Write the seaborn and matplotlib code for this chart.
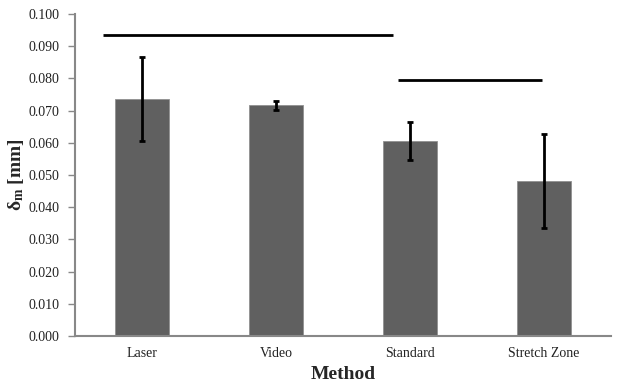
import matplotlib
matplotlib.use("Agg")
import matplotlib.pyplot as plt
import seaborn as sns
import pandas as pd
import numpy as np

categories = ["Laser", "Video", "Standard", "Stretch Zone"]
means = [0.0735, 0.0716, 0.0605, 0.0480]
err_low = [0.0606, 0.0702, 0.0548, 0.0336]
err_high = [0.0867, 0.0731, 0.0665, 0.0627]
sig_lines = [(-0.29, 1.875, 0.0936), (1.91, 2.985, 0.0794)]
yticks = [0.0, 0.01, 0.02, 0.03, 0.04, 0.05, 0.06, 0.07, 0.08, 0.09, 0.10]

sns.set_theme(style="white")
plt.rcParams['font.family'] = ['Liberation Serif', 'DejaVu Serif']
plt.rcParams['mathtext.fontset'] = 'custom'
plt.rcParams['mathtext.rm'] = 'Liberation Serif'
plt.rcParams['mathtext.bf'] = 'Liberation Serif:bold'
plt.rcParams['mathtext.it'] = 'Liberation Serif:italic'

df = pd.DataFrame({"Method": categories, "value": means})

fig = plt.figure(figsize=(6.19, 3.86), dpi=100)
ax = fig.add_axes([0.121, 0.1295, 0.866, 0.8342])
sns.barplot(data=df, x="Method", y="value", color="#606060", saturation=1,
            width=0.4, ax=ax, errorbar=None)
for p in ax.patches:
    p.set_edgecolor("#909090")
    p.set_linewidth(0.6)

x = np.arange(len(categories))
lo = np.array(means) - np.array(err_low)
hi = np.array(err_high) - np.array(means)
ax.errorbar(x, means, yerr=[lo, hi], fmt="none", ecolor="black",
            elinewidth=2, capsize=2, capthick=2)

for x0, x1, yv in sig_lines:
    ax.plot([x0, x1], [yv, yv], color="black", lw=2, solid_capstyle="butt")

ax.set_xlim(-0.5, 3.5)
ax.set_ylim(0, 0.1)
ax.set_yticks(yticks)
ax.set_yticklabels([f"{v:.3f}" for v in yticks])
ax.tick_params(axis="y", which="both", left=True, length=5, width=1,
               color="#888888", labelsize=10, pad=6, direction="out")
ax.tick_params(axis="x", bottom=False, length=0, labelsize=10, pad=8)
for lab in ax.get_xticklabels() + ax.get_yticklabels():
    lab.set_color("#222222")

for s in ["top", "right"]:
    ax.spines[s].set_visible(False)
for s in ["left", "bottom"]:
    ax.spines[s].set_color("#888888")
    ax.spines[s].set_linewidth(1.5)

ax.set_xlabel("Method", fontsize=14, fontweight="bold", labelpad=4)
ax.set_ylabel(r"$\mathbf{\delta}_{\mathbf{m}}$ [mm]", fontsize=14, fontweight="bold", labelpad=2)

fig.savefig("out.png", dpi=100)
